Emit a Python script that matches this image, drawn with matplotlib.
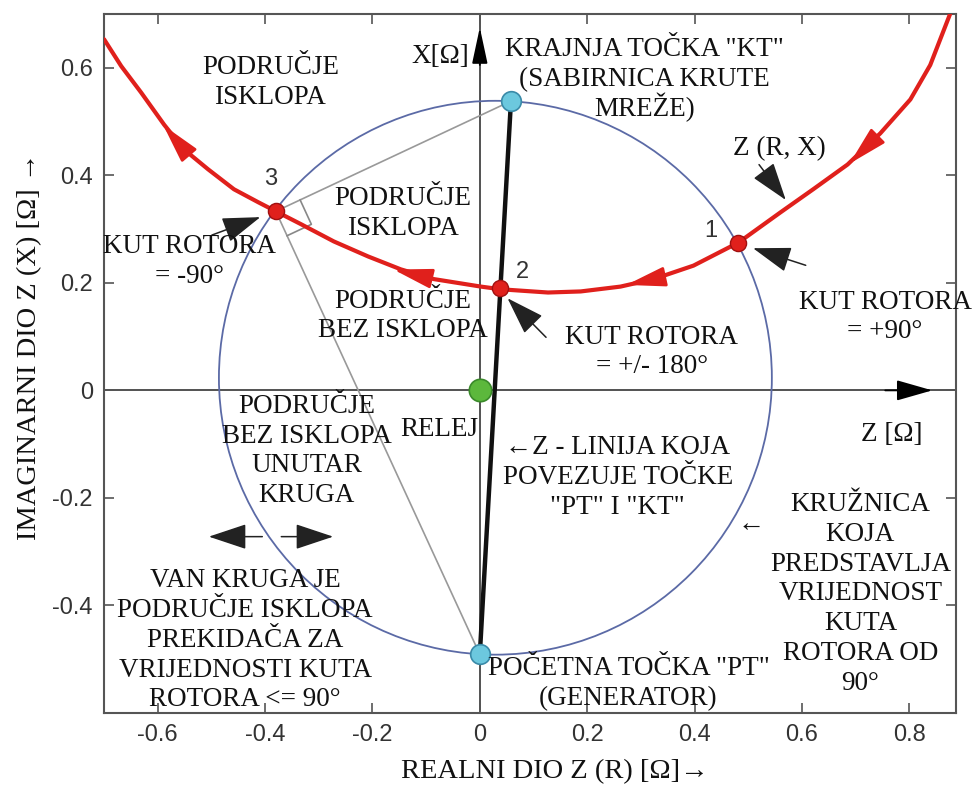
import numpy as np
import matplotlib.pyplot as plt
from matplotlib.patches import Circle

plt.rcParams['font.family'] = ['Liberation Serif', 'DejaVu Serif']

# red impedance trajectory Z(R, X)
traj_r = [-0.700, -0.668, -0.631, -0.588, -0.551, -0.506, -0.458, -0.413, -0.380,
          -0.333, -0.272, -0.208, -0.147, -0.086, 0.002, 0.039, 0.127, 0.188,
          0.262, 0.324, 0.398, 0.482, 0.560, 0.621, 0.685, 0.746, 0.802, 0.839, 0.876]
traj_x = [0.653, 0.603, 0.554, 0.494, 0.448, 0.411, 0.374, 0.350, 0.333,
          0.309, 0.277, 0.249, 0.225, 0.207, 0.193, 0.188, 0.182, 0.184,
          0.193, 0.207, 0.232, 0.275, 0.331, 0.374, 0.420, 0.478, 0.541, 0.605, 0.700]

# direction arrows on the trajectory (tail -> tip)
traj_arrow_tail = [(0.746, 0.478), (0.324, 0.207), (-0.086, 0.207), (-0.551, 0.448)]
traj_arrow_tip = [(0.685, 0.418), (0.268, 0.195), (-0.166, 0.226), (-0.593, 0.497)]

# numbered points on the trajectory
pt_labels = ['1', '2', '3']
pt_r = [0.480, 0.037, -0.380]
pt_x = [0.275, 0.190, 0.333]

# start (PT, generator) and end (KT, infinite bus) point
pt_start = (0.0, -0.491)
pt_end = (0.058, 0.538)
relay = (0.0, 0.0)

# circle for rotor angle 90 deg (PT-KT is its diameter)
circ_center = ((pt_start[0] + pt_end[0]) / 2, (pt_start[1] + pt_end[1]) / 2)
circ_radius = 0.515

xticks = [-0.6, -0.4, -0.2, 0, 0.2, 0.4, 0.6, 0.8]
xtick_labels = ['-0.6', '-0.4', '-0.2', '0', '0.2', '0.4', '0.6', '0.8']
yticks = [-0.4, -0.2, 0, 0.2, 0.4, 0.6]
ytick_labels = ['-0.4', '-0.2', '0', '0.2', '0.4', '0.6']

fig = plt.figure(figsize=(9.76, 7.89), dpi=100)
ax = fig.add_axes([0.1066, 0.0963, 0.8729, 0.886])
ax.set_xlim(-0.7, 0.887)
ax.set_ylim(-0.6, 0.7)

# axes through origin
ax.axhline(0, color='#444444', lw=1.3, zorder=1)
ax.axvline(0, color='#444444', lw=1.3, zorder=1)
ax.annotate('', xy=(0.848, 0), xytext=(0.75, 0),
            arrowprops=dict(arrowstyle='-|>,head_length=1.4,head_width=0.4',
                            color='black', lw=1.3, mutation_scale=16))
ax.annotate('', xy=(0, 0.68), xytext=(0, 0.6),
            arrowprops=dict(arrowstyle='-|>,head_length=1.4,head_width=0.3',
                            color='black', lw=1.3, mutation_scale=16))

# circle
ax.add_patch(Circle(circ_center, circ_radius, fill=False, ec='#5b6aa6', lw=1.3, zorder=2))

# thin grey chords to point 3 (Thales, right angle)
p3 = np.array([pt_r[2], pt_x[2]])
ax.plot([pt_end[0], p3[0], pt_start[0]], [pt_end[1], p3[1], pt_start[1]],
        color='#999999', lw=1.2, zorder=2)
u1 = np.array(pt_end) - p3
u1 /= np.linalg.norm(u1)
u2 = np.array(pt_start) - p3
u2 /= np.linalg.norm(u2)
s = 0.05
sq = np.array([p3 + s * u1, p3 + s * (u1 + u2), p3 + s * u2])
ax.plot(sq[:, 0], sq[:, 1], color='#888888', lw=1.2, zorder=2)

# PT - KT line
ax.plot([pt_start[0], pt_end[0]], [pt_start[1], pt_end[1]], color='#111111', lw=3.2, zorder=3)

# red trajectory
ax.plot(traj_r, traj_x, color='#e0201c', lw=3, zorder=4,
        solid_capstyle='round', solid_joinstyle='round')
for tail, tip in zip(traj_arrow_tail, traj_arrow_tip):
    ax.annotate('', xy=tip, xytext=tail,
                arrowprops=dict(arrowstyle='-|>,head_length=1.5,head_width=0.38',
                                color='#e0201c', lw=2, mutation_scale=16), zorder=5)

ax.scatter(pt_r, pt_x, s=135, color='#e0201c', edgecolor='#a01010', lw=1, zorder=6)
ax.scatter([pt_start[0], pt_end[0]], [pt_start[1], pt_end[1]], s=200,
           color='#6cc8de', edgecolor='#3a8aa8', lw=1.2, zorder=6)
ax.scatter([relay[0]], [relay[1]], s=260, color='#5cb83c', edgecolor='#3a8a2a', lw=1.2, zorder=6)

num_pos = [(0.430, 0.296), (0.080, 0.221), (-0.389, 0.393)]
for lab, pos in zip(pt_labels, num_pos):
    ax.text(pos[0], pos[1], lab, fontsize=17, family='Liberation Sans', color='#333333',
            ha='center', va='center')

# black pointer arrows
pointers = [((0.517, 0.424), (0.573, 0.350)),
            ((0.612, 0.231), (0.504, 0.266)),
            ((-0.504, 0.287), (-0.404, 0.324)),
            ((0.127, 0.095), (0.048, 0.175)),
            ((-0.40, -0.272), (-0.51, -0.272)),
            ((-0.375, -0.272), (-0.268, -0.272))]
for tail, tip in pointers:
    ax.annotate('', xy=tip, xytext=tail,
                arrowprops=dict(arrowstyle='-|>,head_length=1.5,head_width=0.5',
                                color='#222222', lw=1.1, mutation_scale=16), zorder=7)

# annotation texts (centre of block, lines)
notes = [
    (-0.39, 0.577, 'PODRUČJE\nISKLOPA'),
    (-0.073, 0.625, 'X[Ω]'),
    (0.307, 0.583, 'KRAJNJA TOČKA "KT"\n(SABIRNICA KRUTE\nMREŽE)'),
    (0.558, 0.454, 'Z (R, X)'),
    (-0.143, 0.333, 'PODRUČJE\nISKLOPA'),
    (-0.54, 0.244, 'KUT ROTORA\n= -90°'),
    (-0.143, 0.143, 'PODRUČJE\nBEZ ISKLOPA'),
    (0.32, 0.076, 'KUT ROTORA\n= +/- 180°'),
    (0.755, 0.141, 'KUT ROTORA\n= +90°'),
    (0.767, -0.078, 'Z [Ω]'),
    (-0.322, -0.108, 'PODRUČJE\nBEZ ISKLOPA\nUNUTAR\nKRUGA'),
    (-0.076, -0.069, 'RELEJ'),
    (0.257, -0.158, '←Z - LINIJA KOJA\nPOVEZUJE TOČKE\n"PT" I "KT"'),
    (0.709, -0.374, 'KRUŽNICA\nKOJA\nPREDSTAVLJA\nVRIJEDNOST\nKUTA\nROTORA OD\n90°'),
    (0.506, -0.246, '←'),
    (-0.437, -0.46, 'VAN KRUGA JE\nPODRUČJE ISKLOPA\nPREKIDAČA ZA\nVRIJEDNOSTI KUTA\nROTORA <= 90°'),
    (0.277, -0.54, 'POČETNA TOČKA "PT"\n(GENERATOR)'),
]
fs = 19.5
pitch = 0.0555      # line pitch, data units (~30 px)
half_cap = 0.0167   # half cap height, data units
for x, y, t in notes:
    lines = t.split('\n')
    n = len(lines)
    for i, line in enumerate(lines):
        yc = y + (n - 1) / 2 * pitch - i * pitch
        ax.text(x, yc - half_cap, line, fontsize=fs, ha='center', va='baseline',
                color='#111111', zorder=8)

# ticks and frame
ax.set_xticks(xticks)
ax.set_xticklabels(xtick_labels)
ax.set_yticks(yticks)
ax.set_yticklabels(ytick_labels)
ax.tick_params(direction='in', length=7, width=1.2, top=True, right=True,
               labelsize=17, labelcolor='#333333', color='#555555', pad=8)
for lab in ax.get_xticklabels() + ax.get_yticklabels():
    lab.set_family('Liberation Sans')
for sp in ax.spines.values():
    sp.set_color('#555555')
    sp.set_linewidth(1.5)

fig.text(555 / 976, 1 - 772 / 789, 'REALNI DIO Z (R) [Ω]→', fontsize=20.5,
         ha='center', va='center', color='#111111')
fig.text(30 / 976, 1 - 346 / 789, 'IMAGINARNI DIO Z (X) [Ω] →', fontsize=20.5,
         rotation=90, ha='center', va='center', color='#111111')

plt.savefig('out.png', dpi=100)
